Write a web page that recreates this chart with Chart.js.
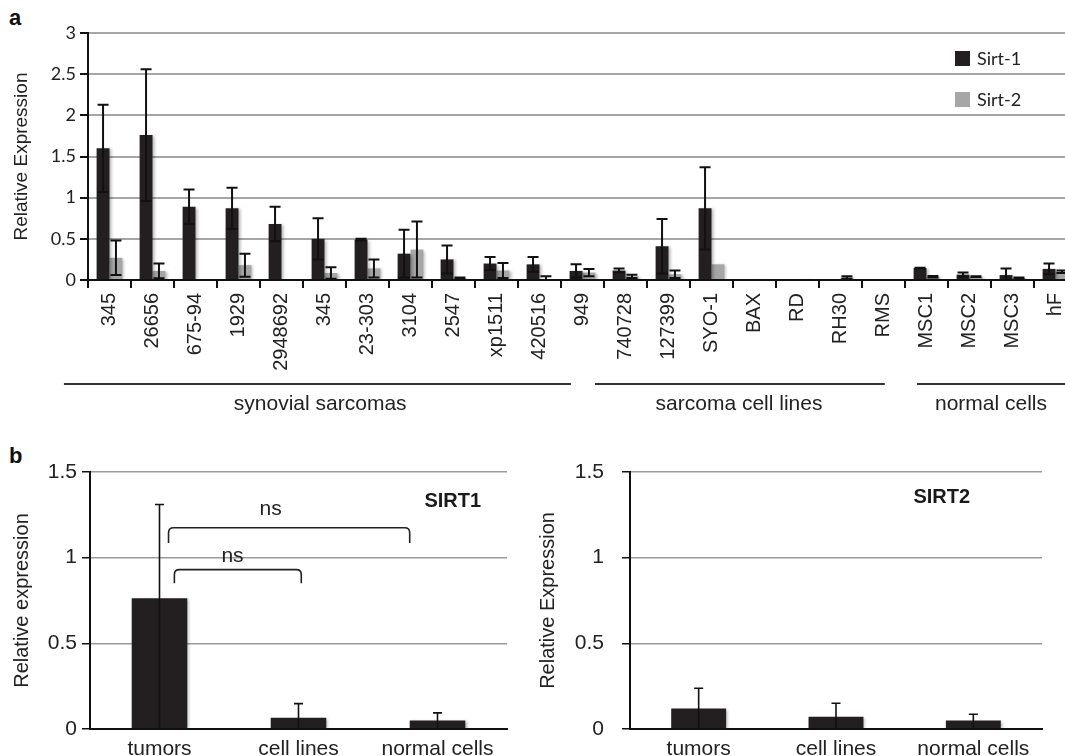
<!DOCTYPE html>
<html>
<head>
<meta charset="utf-8">
<script src="https://cdn.jsdelivr.net/npm/chart.js@4.4.0/dist/chart.umd.min.js"></script>
<style>
  html, body { margin: 0; padding: 0; background: #fff; }
  #fig { position: relative; width: 1065px; height: 756px; overflow: hidden; background: #fff; }
  .panel { position: absolute; }
  .tag { position: absolute; font: bold 22px "Liberation Sans", Arial, sans-serif; color: #111; }
</style>
</head>
<body>
<div id="fig">
  <div class="tag" style="left:9px; top:5px;">a</div>
  <div class="panel" style="left:0; top:0; width:1095px; height:440px;"><canvas id="chartA"></canvas></div>
  <div class="tag" style="left:9px; top:443px;">b</div>
  <div class="panel" style="left:0; top:440px; width:530px; height:330px;"><canvas id="chartB1"></canvas></div>
  <div class="panel" style="left:530px; top:440px; width:535px; height:330px;"><canvas id="chartB2"></canvas></div>
</div>
<script>
// ---- data: panel a ----
const samples = ['345', '26656', '675-94', '1929', '2948692', '345', '23-303', '3104', '2547', 'xp1511', '420516',
                 '949', '740728', '127399', 'SYO-1', 'BAX', 'RD', 'RH30', 'RMS', 'MSC1', 'MSC2', 'MSC3', 'hF'];
const sirt1    = [1.60, 1.76, 0.89, 0.87, 0.68, 0.50, 0.49, 0.32, 0.25, 0.20, 0.19, 0.11, 0.115, 0.41, 0.87, 0.01, 0.01, 0.01, 0.01, 0.145, 0.065, 0.06, 0.135];
const sirt1Err = [0.53, 0.80, 0.21, 0.25, 0.21, 0.25, 0.01, 0.29, 0.17, 0.08, 0.09, 0.08, 0.025, 0.33, 0.50, 0, 0, 0, 0, 0.005, 0.025, 0.08, 0.065];
const sirt2    = [0.27, 0.11, 0, 0.18, 0, 0.085, 0.14, 0.37, 0.02, 0.115, 0.01, 0.09, 0.045, 0.07, 0.19, 0.005, 0.005, 0.03, 0, 0.04, 0.04, 0.025, 0.10];
const sirt2Err = [0.21, 0.09, 0, 0.14, 0, 0.07, 0.11, 0.34, 0.01, 0.09, 0.035, 0.045, 0.02, 0.045, 0, 0, 0, 0.015, 0, 0.01, 0.005, 0.005, 0.015];
const groupNames = ['synovial sarcomas', 'sarcoma cell lines', 'normal cells'];

// ---- data: panel b ----
const sources       = ['tumors', 'cell lines', 'normal cells'];
const sirt1Mean     = [0.763, 0.066, 0.05];
const sirt1MeanErr  = [0.547, 0.082, 0.044];
const sirt2Mean     = [0.119, 0.072, 0.049];
const sirt2MeanErr  = [0.119, 0.078, 0.037];

const DARK = '#231f20';
const GREY = '#a6a6a6';
const TXT = '#222';
Chart.defaults.font.family = '"Liberation Sans", Arial, sans-serif';
Chart.defaults.color = TXT;
Chart.defaults.animation = false;

// 0, 0.5, 1, 1.5 ... (no trailing ".0")
const plainNum = v => String(Math.round(v * 10) / 10);

// soft shadow under bars, like the spreadsheet export
const barShadow = {
  id: 'barShadow',
  beforeDatasetsDraw(chart) {
    const ctx = chart.ctx;
    ctx.save();
    ctx.shadowColor = 'rgba(0,0,0,0.28)';
    ctx.shadowBlur = 3;
    ctx.shadowOffsetX = 2;
    ctx.shadowOffsetY = 1;
  },
  afterDatasetsDraw(chart) { chart.ctx.restore(); }
};

// error bars read from dataset.errors
const errorBars = {
  id: 'errorBars',
  afterDatasetsDraw(chart, args, opts) {
    const ctx = chart.ctx, y = chart.scales.y;
    chart.data.datasets.forEach((ds, i) => {
      if (!ds.errors) return;
      chart.getDatasetMeta(i).data.forEach((bar, j) => {
        const v = ds.data[j], e = ds.errors[j];
        if (!e) return;
        const top = y.getPixelForValue(v + e);
        const bot = opts.both ? y.getPixelForValue(Math.max(v - e, 0)) : y.getPixelForValue(0);
        const half = opts.cap / 2;
        ctx.save();
        ctx.strokeStyle = '#111';
        ctx.lineWidth = opts.width;
        ctx.beginPath();
        ctx.moveTo(bar.x, top); ctx.lineTo(bar.x, bot);
        ctx.moveTo(bar.x - half, top); ctx.lineTo(bar.x + half, top);
        if (opts.both) { ctx.moveTo(bar.x - half, bot); ctx.lineTo(bar.x + half, bot); }
        ctx.stroke();
        ctx.restore();
      });
    });
  }
};

// legend boxes inside the plot (panel a)
const boxLegend = {
  id: 'boxLegend',
  afterDraw(chart, args, opts) {
    if (!opts.show) return;
    const ctx = chart.ctx, area = chart.chartArea;
    chart.data.datasets.forEach((ds, i) => {
      const x = area.left + opts.x, y = area.top + opts.y + i * opts.gap;
      ctx.fillStyle = ds.backgroundColor;
      ctx.fillRect(x, y, 15, 15);
      ctx.fillStyle = TXT;
      ctx.font = '18px Lato, "Open Sans", sans-serif';
      ctx.textBaseline = 'middle';
      ctx.textAlign = 'left';
      ctx.fillText(ds.label, x + 22, y + 8);
    });
  }
};

// sample-group underlines and names below panel a
const groupLines = {
  id: 'groupLines',
  afterDraw(chart, args, opts) {
    if (!opts.spans) return;
    const ctx = chart.ctx, x = chart.scales.x, area = chart.chartArea;
    const lineY = area.bottom + 104, textY = area.bottom + 124;
    opts.spans.forEach((s, i) => {
      ctx.save();
      ctx.strokeStyle = '#333';
      ctx.lineWidth = 2;
      ctx.beginPath();
      ctx.moveTo(x.getPixelForValue(s[0]), lineY);
      ctx.lineTo(x.getPixelForValue(s[1]), lineY);
      ctx.stroke();
      ctx.fillStyle = TXT;
      ctx.font = '21px "Liberation Sans", Arial, sans-serif';
      ctx.textAlign = 'center';
      ctx.textBaseline = 'middle';
      ctx.fillText(groupNames[i], x.getPixelForValue(s[2]), textY);
      ctx.restore();
    });
  }
};

// "ns" brackets and gene tag (panel b)
const notes = {
  id: 'notes',
  afterDraw(chart, args, opts) {
    const ctx = chart.ctx, x = chart.scales.x, y = chart.scales.y;
    (opts.brackets || []).forEach(b => {
      const x1 = x.getPixelForValue(b.x1), x2 = x.getPixelForValue(b.x2);
      const yt = y.getPixelForValue(b.y), yl = y.getPixelForValue(b.leg);
      const r = 5;
      ctx.save();
      ctx.strokeStyle = '#222';
      ctx.lineWidth = 1.6;
      ctx.beginPath();
      ctx.moveTo(x1, yl);
      ctx.lineTo(x1, yt + r);
      ctx.quadraticCurveTo(x1, yt, x1 + r, yt);
      ctx.lineTo(x2 - r, yt);
      ctx.quadraticCurveTo(x2, yt, x2, yt + r);
      ctx.lineTo(x2, yl);
      ctx.stroke();
      ctx.fillStyle = TXT;
      ctx.font = '21px "Liberation Sans", Arial, sans-serif';
      ctx.textAlign = 'center';
      ctx.textBaseline = 'middle';
      ctx.fillText('ns', x.getPixelForValue(b.tx), y.getPixelForValue(b.ty));
      ctx.restore();
    });
    if (opts.tag) {
      ctx.save();
      ctx.fillStyle = '#1a1a1a';
      ctx.font = 'bold 20px "Liberation Sans", Arial, sans-serif';
      ctx.textAlign = 'center';
      ctx.textBaseline = 'middle';
      ctx.fillText(opts.tag.text, x.getPixelForValue(opts.tag.x), y.getPixelForValue(opts.tag.y));
      ctx.restore();
    }
  }
};

// ---------- panel a ----------
new Chart(document.getElementById('chartA'), {
  type: 'bar',
  data: {
    labels: samples,
    datasets: [
      { label: 'Sirt-1', data: sirt1, errors: sirt1Err, backgroundColor: DARK, categoryPercentage: 0.6, barPercentage: 1 },
      { label: 'Sirt-2', data: sirt2, errors: sirt2Err, backgroundColor: GREY, categoryPercentage: 0.6, barPercentage: 1 }
    ]
  },
  options: {
    responsive: true,
    maintainAspectRatio: false,
    layout: { padding: { top: 33, right: 18, bottom: 0, left: 0 } },
    scales: {
      x: {
        afterFit: s => { s.height = 160; },
        grid: { drawOnChartArea: false, color: '#111', tickLength: 8, lineWidth: 2 },
        border: { color: '#111', width: 2, z: 1 },
        ticks: { autoSkip: false, minRotation: 90, maxRotation: 90, padding: 5,
                 font: { size: 20 }, color: TXT }
      },
      y: {
        min: 0, max: 3,
        afterFit: s => { s.width = 88; },
        grid: { color: GREY, lineWidth: 2, tickColor: '#111', tickLength: 8 },
        border: { color: '#111', width: 2 },
        ticks: { stepSize: 0.5, padding: 4, callback: plainNum,
                 font: { family: 'Lato, "Open Sans", sans-serif', size: 18 }, color: TXT },
        title: { display: true, text: 'Relative Expression', font: { size: 19 }, color: TXT, padding: { top: 10, bottom: 0 } }
      }
    },
    plugins: {
      legend: { display: false },
      tooltip: { enabled: false },
      errorBars: { both: true, cap: 11, width: 2 },
      boxLegend: { show: true, x: 867, y: 18, gap: 41 },
      groupLines: { spans: [[-1.06, 10.73, 4.9], [11.29, 18.03, 14.64], [18.78, 23.2, 20.5]] }
    }
  },
  plugins: [barShadow, errorBars, boxLegend, groupLines]
});

// ---------- panel b ----------
function summaryChart(id, values, errs, yTitle, tickPad, titlePad, notesOpts, leftWidth) {
  return new Chart(document.getElementById(id), {
    type: 'bar',
    data: {
      labels: sources,
      datasets: [{ label: yTitle, data: values, errors: errs, backgroundColor: DARK,
                   categoryPercentage: 1, barPercentage: 0.4 }]
    },
    options: {
      responsive: true,
      maintainAspectRatio: false,
      layout: { padding: { top: 32, right: 23, bottom: 0, left: 0 } },
      scales: {
        x: {
          afterFit: s => { s.height = 41; },
          grid: { display: false, drawTicks: false },
          border: { color: '#111', width: 2, z: 1 },
          ticks: { padding: 8, font: { size: 21 }, color: TXT }
        },
        y: {
          min: 0, max: 1.5,
          afterFit: s => { s.width = leftWidth; },
          grid: { color: '#9c9c9c', lineWidth: 1.5, tickColor: '#111', tickLength: 8 },
          border: { color: '#111', width: 2 },
          ticks: { stepSize: 0.5, padding: tickPad, callback: plainNum, font: { size: 21 }, color: TXT },
          title: { display: true, text: yTitle, font: { size: 20 }, color: TXT, padding: { top: titlePad, bottom: 0 } }
        }
      },
      plugins: {
        legend: { display: false },
        tooltip: { enabled: false },
        errorBars: { both: false, cap: 9, width: 1.6 },
        notes: notesOpts
      }
    },
    plugins: [barShadow, errorBars, notes]
  });
}

summaryChart('chartB1', sirt1Mean, sirt1MeanErr, 'Relative expression', 5, 10, {
  tag: { text: 'SIRT1', x: 2.11, y: 1.33 },
  brackets: [
    { x1: 0.065, x2: 1.80, y: 1.175, leg: 1.085, tx: 0.8, ty: 1.28 },
    { x1: 0.107, x2: 1.02, y: 0.93, leg: 0.85, tx: 0.525, ty: 1.01 }
  ]
}, 90);

summaryChart('chartB2', sirt2Mean, sirt2MeanErr, 'Relative Expression', 18, 6, {
  tag: { text: 'SIRT2', x: 1.77, y: 1.35 }
}, 100);
</script>
</body>
</html>
